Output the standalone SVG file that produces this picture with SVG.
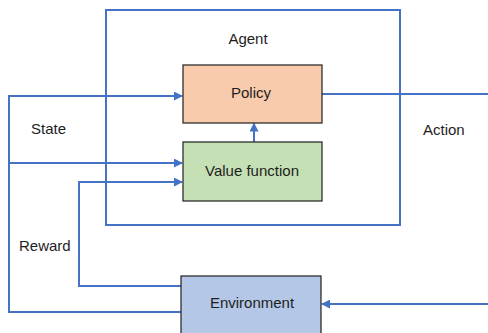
<svg xmlns="http://www.w3.org/2000/svg" width="488" height="333" viewBox="0 0 488 333">
<defs>
<marker id="ah" viewBox="0 0 10 10" refX="9" refY="5" markerWidth="4.5" markerHeight="4.5" orient="auto" markerUnits="strokeWidth">
<path d="M0,0 L10,5 L0,10 z" fill="#4472C4"/>
</marker>
<style>
.ln{fill:none;stroke:#4472C4;stroke-width:2}
.box{stroke:#1f1f1f;stroke-width:1.2}
.t{font-family:"Liberation Sans",Arial,sans-serif;font-size:15px;fill:#1e1e1e}
</style>
</defs>
<rect width="488" height="333" fill="#ffffff"/>
<g id="agent">
<rect x="106" y="10" width="294" height="215" class="ln"/>
<text x="248" y="44" text-anchor="middle" class="t">Agent</text>
</g>
<g id="connectors">
<polyline class="ln" points="181,312 9,312 9,96 182,96" marker-end="url(#ah)"/>
<line class="ln" x1="9" y1="163" x2="182" y2="163" marker-end="url(#ah)"/>
<polyline class="ln" points="181,286 79,286 79,182 182,182" marker-end="url(#ah)"/>
<line class="ln" x1="322" y1="94" x2="488" y2="94"/>
<line class="ln" x1="488" y1="304" x2="322" y2="304" marker-end="url(#ah)"/>
<line class="ln" x1="254" y1="142" x2="254" y2="123.5" marker-end="url(#ah)"/>
</g>
<g id="policy">
<rect x="183" y="65" width="139" height="58" fill="#F8CBAD" class="box"/>
<text x="251" y="98" text-anchor="middle" class="t">Policy</text>
</g>
<g id="value">
<rect x="183" y="142" width="139" height="59" fill="#C5E0B4" class="box"/>
<text x="252" y="176" text-anchor="middle" class="t">Value function</text>
</g>
<g id="environment">
<rect x="181" y="276" width="140" height="70" fill="#B4C7E7" class="box"/>
<text x="252" y="308" text-anchor="middle" class="t">Environment</text>
</g>
<g id="labels">
<text x="31" y="134" class="t">State</text>
<text x="19" y="251" class="t">Reward</text>
<text x="423" y="135" class="t">Action</text>
</g>
</svg>
